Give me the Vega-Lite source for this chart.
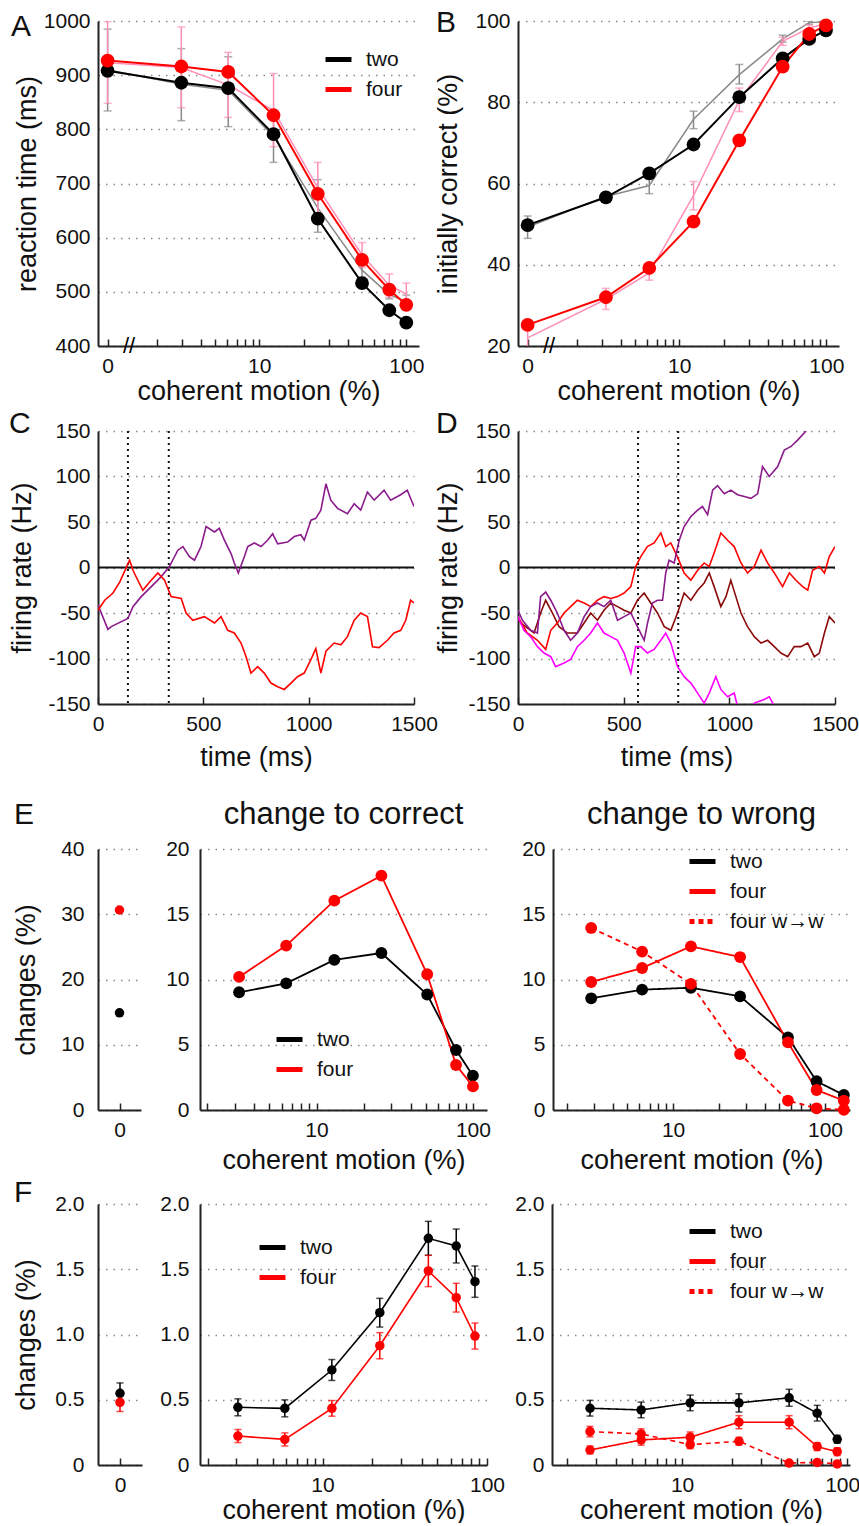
{
"$schema":"https://vega.github.io/schema/vega-lite/v6.json",
"background":"white",
"padding":{"left":8,"top":8,"right":0,"bottom":0},
"config":{
 "font":"Liberation Sans",
 "view":{"stroke":null},
 "axis":{"labelFontSize":21,"titleFontSize":27,"titleFontWeight":"normal","labelColor":"#111","titleColor":"#111","domainColor":"#222","domainWidth":2,"tickColor":"#222","tickWidth":1.5,"gridColor":"#888","gridDash":[1.5,6],"gridWidth":1.5,"labelFlush":false,"labelOverlap":false},
 "axisY":{"ticks":false,"grid":true,"labelPadding":8},
 "axisX":{"grid":false,"tickSize":-7,"labelPadding":16,"titlePadding":2},
 "legend":{"orient":"none","title":null,"symbolType":"stroke","symbolSize":676,"symbolStrokeWidth":5,"labelFontSize":21,"labelOffset":12,"rowPadding":4,"padding":0,"labelColor":"#111"},
 "title":{"fontWeight":"normal","color":"#111","baseline":"alphabetic","anchor":"start","frame":"group","fontSize":30}
},
"datasets":{
 "A":[
  {"x":0.93,"g":"two","m":908,"d":910,"lo":834,"hi":985},
  {"x":2.95,"g":"two","m":886,"d":883,"lo":816,"hi":949},
  {"x":6.15,"g":"two","m":876,"d":872,"lo":805,"hi":934},
  {"x":12.5,"g":"two","m":791,"d":787,"lo":739,"hi":835},
  {"x":25,"g":"two","m":635,"d":655,"lo":610,"hi":707},
  {"x":50,"g":"two","m":516,"d":540,"lo":527,"hi":552},
  {"x":76.6,"g":"two","m":466,"d":495,"lo":487,"hi":503},
  {"x":100,"g":"two","m":443,"d":482,"lo":470,"hi":494},
  {"x":0.93,"g":"four","m":927,"d":923,"lo":848,"hi":999},
  {"x":2.95,"g":"four","m":916,"d":914,"lo":840,"hi":989},
  {"x":6.15,"g":"four","m":906,"d":882,"lo":822,"hi":942},
  {"x":12.5,"g":"four","m":826,"d":835,"lo":768,"hi":903},
  {"x":25,"g":"four","m":681,"d":692,"lo":644,"hi":739},
  {"x":50,"g":"four","m":559,"d":568,"lo":545,"hi":591},
  {"x":76.6,"g":"four","m":504,"d":512,"lo":490,"hi":533},
  {"x":100,"g":"four","m":476,"d":496,"lo":478,"hi":516}
 ],
 "B":[
  {"x":0.93,"g":"two","m":49.75,"d":49.3,"lo":46.5,"hi":52},
  {"x":3.17,"g":"two","m":56.6,"d":56.8,"lo":55.8,"hi":57.8},
  {"x":6.25,"g":"two","m":62.5,"d":59.5,"lo":57.5,"hi":61},
  {"x":12.5,"g":"two","m":69.6,"d":75.8,"lo":73.5,"hi":77.8},
  {"x":25.6,"g":"two","m":81.25,"d":86.8,"lo":84.5,"hi":89.3},
  {"x":50.5,"g":"two","m":90.8,"d":95.6,"lo":94.8,"hi":96.5},
  {"x":76.5,"g":"two","m":95.6,"d":99.6,"lo":99.2,"hi":100},
  {"x":99.5,"g":"two","m":97.7,"d":99.8,"lo":99.5,"hi":100},
  {"x":0.93,"g":"four","m":25.2,"d":22,"lo":19.5,"hi":24.5},
  {"x":3.17,"g":"four","m":32,"d":31.5,"lo":29,"hi":34.2},
  {"x":6.25,"g":"four","m":39.2,"d":38,"lo":36.2,"hi":40},
  {"x":12.5,"g":"four","m":50.6,"d":57,"lo":53.5,"hi":60.5},
  {"x":25.6,"g":"four","m":70.6,"d":80.5,"lo":77.7,"hi":83.5},
  {"x":50.5,"g":"four","m":88.75,"d":95,"lo":94,"hi":96},
  {"x":76.5,"g":"four","m":96.8,"d":98.3,"lo":97.5,"hi":99},
  {"x":99.5,"g":"four","m":98.9,"d":99.3,"lo":98.8,"hi":99.8}
 ],
 "C":[
  {"t":0,"v":-41,"s":"p"},{"t":47,"v":-68,"s":"p"},{"t":63,"v":-65,"s":"p"},{"t":142,"v":-56,"s":"p"},{"t":166,"v":-43,"s":"p"},{"t":205,"v":-32,"s":"p"},{"t":253,"v":-21,"s":"p"},{"t":300,"v":-10,"s":"p"},{"t":339,"v":1,"s":"p"},{"t":379,"v":19,"s":"p"},{"t":403,"v":23,"s":"p"},{"t":434,"v":12,"s":"p"},{"t":458,"v":8,"s":"p"},{"t":489,"v":23,"s":"p"},{"t":513,"v":45,"s":"p"},{"t":553,"v":39,"s":"p"},{"t":576,"v":43,"s":"p"},{"t":600,"v":30,"s":"p"},{"t":632,"v":15,"s":"p"},{"t":647,"v":5,"s":"p"},{"t":666,"v":-6,"s":"p"},{"t":695,"v":12,"s":"p"},{"t":711,"v":23,"s":"p"},{"t":742,"v":27,"s":"p"},{"t":774,"v":23,"s":"p"},{"t":805,"v":30,"s":"p"},{"t":829,"v":37,"s":"p"},{"t":853,"v":26,"s":"p"},{"t":900,"v":28,"s":"p"},{"t":932,"v":34,"s":"p"},{"t":963,"v":36,"s":"p"},{"t":979,"v":30,"s":"p"},{"t":1011,"v":52,"s":"p"},{"t":1034,"v":54,"s":"p"},{"t":1058,"v":63,"s":"p"},{"t":1082,"v":92,"s":"p"},{"t":1105,"v":74,"s":"p"},{"t":1137,"v":65,"s":"p"},{"t":1184,"v":59,"s":"p"},{"t":1216,"v":70,"s":"p"},{"t":1247,"v":63,"s":"p"},{"t":1279,"v":83,"s":"p"},{"t":1311,"v":74,"s":"p"},{"t":1358,"v":85,"s":"p"},{"t":1389,"v":74,"s":"p"},{"t":1437,"v":80,"s":"p"},{"t":1468,"v":85,"s":"p"},{"t":1500,"v":67,"s":"p"},
  {"t":0,"v":-47,"s":"r"},{"t":32,"v":-36,"s":"r"},{"t":71,"v":-28,"s":"r"},{"t":103,"v":-16,"s":"r"},{"t":150,"v":8,"s":"r"},{"t":166,"v":-3,"s":"r"},{"t":189,"v":-14,"s":"r"},{"t":213,"v":-25,"s":"r"},{"t":245,"v":-16,"s":"r"},{"t":284,"v":-6,"s":"r"},{"t":316,"v":-14,"s":"r"},{"t":347,"v":-32,"s":"r"},{"t":395,"v":-34,"s":"r"},{"t":418,"v":-50,"s":"r"},{"t":450,"v":-58,"s":"r"},{"t":505,"v":-54,"s":"r"},{"t":553,"v":-61,"s":"r"},{"t":584,"v":-54,"s":"r"},{"t":616,"v":-69,"s":"r"},{"t":647,"v":-72,"s":"r"},{"t":679,"v":-83,"s":"r"},{"t":703,"v":-98,"s":"r"},{"t":726,"v":-116,"s":"r"},{"t":758,"v":-109,"s":"r"},{"t":789,"v":-116,"s":"r"},{"t":821,"v":-127,"s":"r"},{"t":853,"v":-131,"s":"r"},{"t":884,"v":-134,"s":"r"},{"t":916,"v":-127,"s":"r"},{"t":947,"v":-120,"s":"r"},{"t":979,"v":-116,"s":"r"},{"t":1011,"v":-101,"s":"r"},{"t":1034,"v":-89,"s":"r"},{"t":1058,"v":-116,"s":"r"},{"t":1082,"v":-92,"s":"r"},{"t":1121,"v":-83,"s":"r"},{"t":1153,"v":-85,"s":"r"},{"t":1184,"v":-76,"s":"r"},{"t":1216,"v":-58,"s":"r"},{"t":1247,"v":-50,"s":"r"},{"t":1279,"v":-54,"s":"r"},{"t":1303,"v":-87,"s":"r"},{"t":1334,"v":-88,"s":"r"},{"t":1374,"v":-80,"s":"r"},{"t":1405,"v":-72,"s":"r"},{"t":1437,"v":-69,"s":"r"},{"t":1461,"v":-58,"s":"r"},{"t":1484,"v":-36,"s":"r"},{"t":1500,"v":-39,"s":"r"}
 ],
 "D":[
  {"t":0,"v":-58,"s":"dr"},{"t":36,"v":-65,"s":"dr"},{"t":76,"v":-72,"s":"dr"},{"t":107,"v":-50,"s":"dr"},{"t":131,"v":-36,"s":"dr"},{"t":163,"v":-50,"s":"dr"},{"t":194,"v":-65,"s":"dr"},{"t":234,"v":-72,"s":"dr"},{"t":281,"v":-72,"s":"dr"},{"t":313,"v":-61,"s":"dr"},{"t":344,"v":-50,"s":"dr"},{"t":376,"v":-58,"s":"dr"},{"t":407,"v":-47,"s":"dr"},{"t":439,"v":-39,"s":"dr"},{"t":471,"v":-43,"s":"dr"},{"t":502,"v":-47,"s":"dr"},{"t":534,"v":-50,"s":"dr"},{"t":565,"v":-36,"s":"dr"},{"t":597,"v":-28,"s":"dr"},{"t":628,"v":-39,"s":"dr"},{"t":660,"v":-50,"s":"dr"},{"t":692,"v":-65,"s":"dr"},{"t":723,"v":-69,"s":"dr"},{"t":755,"v":-50,"s":"dr"},{"t":786,"v":-28,"s":"dr"},{"t":818,"v":-36,"s":"dr"},{"t":850,"v":-25,"s":"dr"},{"t":881,"v":-17,"s":"dr"},{"t":905,"v":-6,"s":"dr"},{"t":928,"v":-21,"s":"dr"},{"t":960,"v":-43,"s":"dr"},{"t":984,"v":-32,"s":"dr"},{"t":1007,"v":-14,"s":"dr"},{"t":1031,"v":-32,"s":"dr"},{"t":1055,"v":-50,"s":"dr"},{"t":1086,"v":-65,"s":"dr"},{"t":1118,"v":-76,"s":"dr"},{"t":1150,"v":-83,"s":"dr"},{"t":1181,"v":-80,"s":"dr"},{"t":1213,"v":-87,"s":"dr"},{"t":1244,"v":-94,"s":"dr"},{"t":1276,"v":-98,"s":"dr"},{"t":1307,"v":-87,"s":"dr"},{"t":1339,"v":-87,"s":"dr"},{"t":1371,"v":-83,"s":"dr"},{"t":1402,"v":-98,"s":"dr"},{"t":1426,"v":-94,"s":"dr"},{"t":1450,"v":-72,"s":"dr"},{"t":1473,"v":-54,"s":"dr"},{"t":1500,"v":-61,"s":"dr"},
  {"t":0,"v":-54,"s":"r"},{"t":44,"v":-72,"s":"r"},{"t":92,"v":-80,"s":"r"},{"t":131,"v":-90,"s":"r"},{"t":155,"v":-69,"s":"r"},{"t":186,"v":-61,"s":"r"},{"t":218,"v":-50,"s":"r"},{"t":249,"v":-43,"s":"r"},{"t":281,"v":-36,"s":"r"},{"t":313,"v":-39,"s":"r"},{"t":344,"v":-43,"s":"r"},{"t":376,"v":-36,"s":"r"},{"t":407,"v":-32,"s":"r"},{"t":439,"v":-34,"s":"r"},{"t":471,"v":-32,"s":"r"},{"t":502,"v":-28,"s":"r"},{"t":534,"v":-21,"s":"r"},{"t":557,"v":1,"s":"r"},{"t":581,"v":12,"s":"r"},{"t":612,"v":23,"s":"r"},{"t":644,"v":27,"s":"r"},{"t":676,"v":38,"s":"r"},{"t":699,"v":23,"s":"r"},{"t":723,"v":27,"s":"r"},{"t":754,"v":12,"s":"r"},{"t":786,"v":-6,"s":"r"},{"t":818,"v":-14,"s":"r"},{"t":850,"v":-3,"s":"r"},{"t":881,"v":5,"s":"r"},{"t":905,"v":1,"s":"r"},{"t":928,"v":16,"s":"r"},{"t":960,"v":38,"s":"r"},{"t":992,"v":30,"s":"r"},{"t":1023,"v":23,"s":"r"},{"t":1055,"v":5,"s":"r"},{"t":1086,"v":-6,"s":"r"},{"t":1118,"v":1,"s":"r"},{"t":1150,"v":19,"s":"r"},{"t":1181,"v":5,"s":"r"},{"t":1213,"v":-6,"s":"r"},{"t":1252,"v":-21,"s":"r"},{"t":1284,"v":-6,"s":"r"},{"t":1315,"v":-14,"s":"r"},{"t":1347,"v":-21,"s":"r"},{"t":1371,"v":-25,"s":"r"},{"t":1394,"v":-3,"s":"r"},{"t":1426,"v":1,"s":"r"},{"t":1450,"v":-6,"s":"r"},{"t":1473,"v":12,"s":"r"},{"t":1500,"v":23,"s":"r"},
  {"t":0,"v":-54,"s":"m"},{"t":28,"v":-69,"s":"m"},{"t":60,"v":-76,"s":"m"},{"t":92,"v":-87,"s":"m"},{"t":123,"v":-94,"s":"m"},{"t":155,"v":-98,"s":"m"},{"t":178,"v":-109,"s":"m"},{"t":218,"v":-105,"s":"m"},{"t":249,"v":-101,"s":"m"},{"t":281,"v":-87,"s":"m"},{"t":313,"v":-80,"s":"m"},{"t":344,"v":-72,"s":"m"},{"t":376,"v":-61,"s":"m"},{"t":407,"v":-72,"s":"m"},{"t":439,"v":-76,"s":"m"},{"t":471,"v":-80,"s":"m"},{"t":502,"v":-94,"s":"m"},{"t":534,"v":-116,"s":"m"},{"t":557,"v":-87,"s":"m"},{"t":581,"v":-87,"s":"m"},{"t":612,"v":-94,"s":"m"},{"t":644,"v":-90,"s":"m"},{"t":676,"v":-80,"s":"m"},{"t":699,"v":-72,"s":"m"},{"t":723,"v":-83,"s":"m"},{"t":755,"v":-109,"s":"m"},{"t":786,"v":-120,"s":"m"},{"t":818,"v":-127,"s":"m"},{"t":850,"v":-138,"s":"m"},{"t":881,"v":-149,"s":"m"},{"t":905,"v":-138,"s":"m"},{"t":936,"v":-120,"s":"m"},{"t":960,"v":-134,"s":"m"},{"t":992,"v":-142,"s":"m"},{"t":1023,"v":-138,"s":"m"},{"t":1039,"v":-153,"s":"m"},{"t":1070,"v":-162,"s":"m"},{"t":1100,"v":-158,"s":"m"},{"t":1118,"v":-149,"s":"m"},{"t":1142,"v":-147,"s":"m"},{"t":1165,"v":-145,"s":"m"},{"t":1189,"v":-142,"s":"m"},{"t":1205,"v":-149,"s":"m"},{"t":1220,"v":-160,"s":"m"},
  {"t":0,"v":-47,"s":"p"},{"t":21,"v":-58,"s":"p"},{"t":60,"v":-69,"s":"p"},{"t":92,"v":-72,"s":"p"},{"t":107,"v":-32,"s":"p"},{"t":131,"v":-27,"s":"p"},{"t":155,"v":-36,"s":"p"},{"t":186,"v":-50,"s":"p"},{"t":218,"v":-69,"s":"p"},{"t":249,"v":-80,"s":"p"},{"t":281,"v":-72,"s":"p"},{"t":313,"v":-54,"s":"p"},{"t":344,"v":-43,"s":"p"},{"t":376,"v":-39,"s":"p"},{"t":407,"v":-43,"s":"p"},{"t":439,"v":-36,"s":"p"},{"t":471,"v":-58,"s":"p"},{"t":502,"v":-54,"s":"p"},{"t":534,"v":-50,"s":"p"},{"t":565,"v":-65,"s":"p"},{"t":597,"v":-80,"s":"p"},{"t":613,"v":-61,"s":"p"},{"t":636,"v":-39,"s":"p"},{"t":660,"v":-36,"s":"p"},{"t":684,"v":-36,"s":"p"},{"t":699,"v":-6,"s":"p"},{"t":715,"v":8,"s":"p"},{"t":739,"v":5,"s":"p"},{"t":763,"v":30,"s":"p"},{"t":786,"v":45,"s":"p"},{"t":818,"v":56,"s":"p"},{"t":850,"v":63,"s":"p"},{"t":873,"v":67,"s":"p"},{"t":897,"v":58,"s":"p"},{"t":921,"v":85,"s":"p"},{"t":944,"v":90,"s":"p"},{"t":976,"v":81,"s":"p"},{"t":1007,"v":85,"s":"p"},{"t":1039,"v":80,"s":"p"},{"t":1071,"v":78,"s":"p"},{"t":1102,"v":76,"s":"p"},{"t":1134,"v":81,"s":"p"},{"t":1157,"v":111,"s":"p"},{"t":1189,"v":100,"s":"p"},{"t":1229,"v":111,"s":"p"},{"t":1260,"v":129,"s":"p"},{"t":1292,"v":133,"s":"p"},{"t":1323,"v":140,"s":"p"},{"t":1363,"v":150,"s":"p"}
 ],
 "Ec":[
  {"x":3.2,"g":"two","v":9.02},{"x":6.4,"g":"two","v":9.7},{"x":13,"g":"two","v":11.5},{"x":26,"g":"two","v":12.03},{"x":51,"g":"two","v":8.85},{"x":78,"g":"two","v":4.6},{"x":100,"g":"two","v":2.63},
  {"x":3.2,"g":"four","v":10.2},{"x":6.4,"g":"four","v":12.6},{"x":13,"g":"four","v":16.04},{"x":26,"g":"four","v":17.96},{"x":51,"g":"four","v":10.4},{"x":78,"g":"four","v":3.45},{"x":100,"g":"four","v":1.81}
 ],
 "Ew":[
  {"x":2.89,"s":"two","v":8.56},{"x":6.25,"s":"two","v":9.22},{"x":13.1,"s":"two","v":9.37},{"x":27.6,"s":"two","v":8.71},{"x":57,"s":"two","v":5.57},{"x":88,"s":"two","v":2.2},{"x":133,"s":"two","v":1.15},
  {"x":2.89,"s":"four","v":9.81},{"x":6.25,"s":"four","v":10.88},{"x":13.1,"s":"four","v":12.54},{"x":27.6,"s":"four","v":11.72},{"x":57,"s":"four","v":5.18},{"x":88,"s":"four","v":1.53},{"x":133,"s":"four","v":0.72},
  {"x":2.89,"s":"four w→w","v":13.95},{"x":6.25,"s":"four w→w","v":12.14},{"x":13.1,"s":"four w→w","v":9.66},{"x":27.6,"s":"four w→w","v":4.29},{"x":57,"s":"four w→w","v":0.72},{"x":88,"s":"four w→w","v":0.13},{"x":133,"s":"four w→w","v":0.02}
 ],
 "Fc":[
  {"x":3.06,"g":"two","v":0.442,"lo":0.377,"hi":0.507},{"x":5.9,"g":"two","v":0.434,"lo":0.369,"hi":0.499},{"x":11.4,"g":"two","v":0.728,"lo":0.648,"hi":0.808},{"x":22.3,"g":"two","v":1.167,"lo":1.057,"hi":1.277},{"x":44,"g":"two","v":1.737,"lo":1.607,"hi":1.867},{"x":65,"g":"two","v":1.678,"lo":1.548,"hi":1.808},{"x":84.5,"g":"two","v":1.405,"lo":1.285,"hi":1.525},
  {"x":3.06,"g":"four","v":0.222,"lo":0.172,"hi":0.272},{"x":5.9,"g":"four","v":0.196,"lo":0.146,"hi":0.246},{"x":11.4,"g":"four","v":0.434,"lo":0.374,"hi":0.494},{"x":22.3,"g":"four","v":0.914,"lo":0.814,"hi":1.014},{"x":44,"g":"four","v":1.487,"lo":1.367,"hi":1.607},{"x":65,"g":"four","v":1.282,"lo":1.172,"hi":1.392},{"x":84.5,"g":"four","v":0.988,"lo":0.888,"hi":1.088}
 ],
 "Fw":[
  {"x":2.77,"s":"two","v":0.435,"lo":0.375,"hi":0.495},{"x":5.65,"s":"two","v":0.422,"lo":0.362,"hi":0.482},{"x":11.2,"s":"two","v":0.476,"lo":0.416,"hi":0.536},{"x":22.1,"s":"two","v":0.476,"lo":0.406,"hi":0.546},{"x":44.5,"s":"two","v":0.515,"lo":0.45,"hi":0.58},{"x":65.8,"s":"two","v":0.397,"lo":0.337,"hi":0.457},{"x":87,"s":"two","v":0.197,"lo":0.167,"hi":0.227},
  {"x":2.77,"s":"four","v":0.115,"lo":0.085,"hi":0.145},{"x":5.65,"s":"four","v":0.192,"lo":0.152,"hi":0.232},{"x":11.2,"s":"four","v":0.213,"lo":0.173,"hi":0.253},{"x":22.1,"s":"four","v":0.328,"lo":0.278,"hi":0.378},{"x":44.5,"s":"four","v":0.328,"lo":0.278,"hi":0.378},{"x":65.8,"s":"four","v":0.141,"lo":0.111,"hi":0.171},{"x":87,"s":"four","v":0.102,"lo":0.072,"hi":0.132},
  {"x":2.77,"s":"four w→w","v":0.256,"lo":0.216,"hi":0.296},{"x":5.65,"s":"four w→w","v":0.238,"lo":0.198,"hi":0.278},{"x":11.2,"s":"four w→w","v":0.156,"lo":0.126,"hi":0.186},{"x":22.1,"s":"four w→w","v":0.182,"lo":0.152,"hi":0.212},{"x":44.5,"s":"four w→w","v":0.015,"lo":0.005,"hi":0.025},{"x":65.8,"s":"four w→w","v":0.02,"lo":0.01,"hi":0.03},{"x":87,"s":"four w→w","v":0.008,"lo":0.0,"hi":0.018}
 ]
},
"spacing":29,
"resolve":{"scale":{"x":"independent","y":"independent","color":"independent","strokeDash":"independent"},"axis":{"x":"independent","y":"independent"},"legend":{"color":"independent","strokeDash":"independent"}},
"vconcat":[
 {"spacing":5,
  "resolve":{"scale":{"x":"independent","y":"independent","color":"independent","strokeDash":"independent"},"axis":{"x":"independent","y":"independent"},"legend":{"color":"independent","strokeDash":"independent"}},
  "vconcat":[
   {"spacing":99,"bounds":"flush",
    "resolve":{"scale":{"x":"independent","y":"independent","color":"independent","strokeDash":"independent"},"axis":{"x":"independent","y":"independent"},"legend":{"color":"independent","strokeDash":"independent"}},
    "hconcat":[
     {"width":321,"height":325,
      "title":{"text":"A","dx":-87,"offset":-32},
      "data":{"name":"A"},
      "encoding":{"x":{"field":"x","type":"quantitative","scale":{"type":"log","domain":[0.8,122],"nice":false},"axis":{"values":[0.93,2,3,4,5,6,7,8,9,10,20,30,40,50,60,70,80,90,100],"labelExpr":"datum.value < 1 ? '0' : (datum.value == 10 ? '10' : (datum.value == 100 ? '100' : ''))","title":"coherent motion (%)"}}},
      "layer":[
       {"mark":{"type":"line","strokeWidth":1.5},"encoding":{"y":{"field":"d","type":"quantitative","scale":{"domain":[400,1000],"nice":false,"zero":false},"title":"reaction time (ms)","axis":{"values":[400,500,600,700,800,900,1000],"format":"d","titlePadding":2}},"detail":{"field":"g"},"color":{"condition":{"test":"datum.g==='two'","value":"#8a8a8a"},"value":"#ff8fb8"}}},
       {"mark":{"type":"errorbar","ticks":{"size":8},"thickness":1.5,"clip":true},"encoding":{"y":{"field":"lo","type":"quantitative","title":"reaction time (ms)"},"y2":{"field":"hi"},"color":{"condition":{"test":"datum.g==='two'","value":"#8a8a8a"},"value":"#ff8fb8"}}},
       {"mark":{"type":"line","strokeWidth":2},"encoding":{"y":{"field":"m","type":"quantitative","title":"reaction time (ms)"},"color":{"field":"g","type":"nominal","scale":{"domain":["two","four"],"range":["#000000","#ff0000"]},"legend":{"legendX":225,"legendY":23}}}},
       {"mark":{"type":"point","filled":true,"size":190,"opacity":1},"encoding":{"y":{"field":"m","type":"quantitative","title":"reaction time (ms)"},"color":{"condition":{"test":"datum.g==='two'","value":"#000000"},"value":"#ff0000"}}},
       {"data":{"values":[{"x":1.3,"y":400}]},"mark":{"type":"text","text":"//","fontSize":22,"baseline":"middle","align":"center"},"encoding":{"y":{"field":"y","type":"quantitative","title":"reaction time (ms)"}}}
      ]},
     {"width":321,"height":325,
      "title":{"text":"B","dx":-82,"offset":-28},
      "data":{"name":"B"},
      "encoding":{"x":{"field":"x","type":"quantitative","scale":{"type":"log","domain":[0.8,122],"nice":false},"axis":{"values":[0.93,2,3,4,5,6,7,8,9,10,20,30,40,50,60,70,80,90,100],"labelExpr":"datum.value < 1 ? '0' : (datum.value == 10 ? '10' : (datum.value == 100 ? '100' : ''))","title":"coherent motion (%)"}}},
      "layer":[
       {"mark":{"type":"line","strokeWidth":1.5},"encoding":{"y":{"field":"d","type":"quantitative","scale":{"domain":[20,100],"nice":false,"zero":false},"title":"initially correct (%)","axis":{"values":[20,40,60,80,100],"titlePadding":12}},"detail":{"field":"g"},"color":{"condition":{"test":"datum.g==='two'","value":"#8a8a8a"},"value":"#ff8fb8"}}},
       {"mark":{"type":"errorbar","ticks":{"size":8},"thickness":1.5,"clip":true},"encoding":{"y":{"field":"lo","type":"quantitative","title":"initially correct (%)"},"y2":{"field":"hi"},"color":{"condition":{"test":"datum.g==='two'","value":"#8a8a8a"},"value":"#ff8fb8"}}},
       {"mark":{"type":"line","strokeWidth":2},"encoding":{"y":{"field":"m","type":"quantitative","title":"initially correct (%)"},"color":{"field":"g","type":"nominal","scale":{"domain":["two","four"],"range":["#000000","#ff0000"]},"legend":null}}},
       {"mark":{"type":"point","filled":true,"size":190,"opacity":1},"encoding":{"y":{"field":"m","type":"quantitative","title":"initially correct (%)"},"color":{"condition":{"test":"datum.g==='two'","value":"#000000"},"value":"#ff0000"}}},
       {"data":{"values":[{"x":1.3,"y":20}]},"mark":{"type":"text","text":"//","fontSize":22,"baseline":"middle","align":"center"},"encoding":{"y":{"field":"y","type":"quantitative","title":"initially correct (%)"}}}
      ]}
    ]},
   {"spacing":104,"bounds":"flush",
    "resolve":{"scale":{"x":"independent","y":"independent","color":"independent","strokeDash":"independent"},"axis":{"x":"independent","y":"independent"},"legend":{"color":"independent","strokeDash":"independent"}},
    "hconcat":[
     {"width":316,"height":273,
      "title":{"text":"C","dx":-89,"offset":-19},
      "layer":[
       {"data":{"values":[{"v":0}]},"mark":{"type":"rule","color":"#111","strokeWidth":2},"encoding":{"y":{"field":"v","type":"quantitative","scale":{"domain":[-150,150],"nice":false},"title":"firing rate (Hz)","axis":{"values":[-150,-100,-50,0,50,100,150],"labelExpr":"datum.value < 0 ? '-' + (-datum.value) : '' + datum.value","titlePadding":11}}}},
       {"data":{"values":[{"t":142},{"t":336}]},"mark":{"type":"rule","color":"#111","strokeWidth":2,"strokeDash":[2,4]},"encoding":{"x":{"field":"t","type":"quantitative","scale":{"domain":[0,1500],"nice":false},"title":"time (ms)","axis":{"values":[0,500,1000,1500],"format":"d","titlePadding":10}}}},
       {"data":{"name":"C"},"mark":{"type":"line","strokeWidth":1.6,"clip":true},"encoding":{"x":{"field":"t","type":"quantitative","title":"time (ms)"},"y":{"field":"v","type":"quantitative","title":"firing rate (Hz)"},"color":{"field":"s","type":"nominal","scale":{"domain":["p","r"],"range":["#8b1a8b","#ff0000"]},"legend":null}}}
      ]},
     {"width":317,"height":273,
      "title":{"text":"D","dx":-82,"offset":-19},
      "layer":[
       {"data":{"values":[{"v":0}]},"mark":{"type":"rule","color":"#111","strokeWidth":2},"encoding":{"y":{"field":"v","type":"quantitative","scale":{"domain":[-150,150],"nice":false},"title":"firing rate (Hz)","axis":{"values":[-150,-100,-50,0,50,100,150],"labelExpr":"datum.value < 0 ? '-' + (-datum.value) : '' + datum.value","titlePadding":5}}}},
       {"data":{"values":[{"t":568},{"t":758}]},"mark":{"type":"rule","color":"#111","strokeWidth":2,"strokeDash":[2,4]},"encoding":{"x":{"field":"t","type":"quantitative","scale":{"domain":[0,1500],"nice":false},"title":"time (ms)","axis":{"values":[0,500,1000,1500],"format":"d","titlePadding":10}}}},
       {"data":{"name":"D"},"mark":{"type":"line","strokeWidth":1.6,"clip":true},"encoding":{"x":{"field":"t","type":"quantitative","title":"time (ms)"},"y":{"field":"v","type":"quantitative","title":"firing rate (Hz)"},"color":{"field":"s","type":"nominal","scale":{"domain":["dr","r","m","p"],"range":["#8b0a0a","#ff0000","#ff00ff","#8b1a8b"]},"legend":null}}}
      ]}
    ]}
  ]},
 {"spacing":5,
  "resolve":{"scale":{"x":"independent","y":"independent","color":"independent","strokeDash":"independent"},"axis":{"x":"independent","y":"independent"},"legend":{"color":"independent","strokeDash":"independent"}},
  "vconcat":[
   {"spacing":59,"bounds":"flush",
    "resolve":{"scale":{"x":"independent","y":"independent","color":"independent","strokeDash":"independent"},"axis":{"x":"independent","y":"independent"},"legend":{"color":"independent","strokeDash":"independent"}},
    "hconcat":[
     {"width":43,"height":261,
      "title":{"text":"E","dx":-84,"offset":8},
      "data":{"values":[{"x":0,"g":"two","v":14.9},{"x":0,"g":"four","v":30.65}]},
      "mark":{"type":"point","filled":true,"size":90,"opacity":1},
      "encoding":{
       "x":{"field":"x","type":"quantitative","scale":{"domain":[-1,1],"nice":false},"axis":{"values":[0],"title":null}},
       "y":{"field":"v","type":"quantitative","scale":{"domain":[0,40],"nice":false},"title":"changes (%)","axis":{"values":[0,10,20,30,40],"titlePadding":20,"labelPadding":14}},
       "color":{"condition":{"test":"datum.g==='two'","value":"#000000"},"value":"#ff0000"}}},
     {"spacing":66,"bounds":"flush",
      "resolve":{"scale":{"x":"independent","y":"independent","color":"independent","strokeDash":"independent"},"axis":{"x":"independent","y":"independent"},"legend":{"color":"independent","strokeDash":"independent"}},
      "hconcat":[
       {"width":287,"height":261,
        "title":{"text":"change to correct","anchor":"middle","fontSize":31,"offset":7},
        "data":{"name":"Ec"},
        "encoding":{
         "x":{"field":"x","type":"quantitative","scale":{"type":"log","domain":[1.8,123],"nice":false},"axis":{"values":[2,3,4,5,6,7,8,9,10,20,30,40,50,60,70,80,90,100],"labelExpr":"datum.value == 10 ? '10' : (datum.value == 100 ? '100' : '')","title":"coherent motion (%)","titlePadding":7}},
         "y":{"field":"v","type":"quantitative","scale":{"domain":[0,20],"nice":false},"title":null,"axis":{"values":[0,5,10,15,20],"labelPadding":11}}},
        "layer":[
         {"mark":{"type":"line","strokeWidth":1.8},"encoding":{"color":{"field":"g","type":"nominal","scale":{"domain":["two","four"],"range":["#000000","#ff0000"]},"legend":{"legendX":74,"legendY":175}}}},
         {"mark":{"type":"point","filled":true,"size":140,"opacity":1},"encoding":{"color":{"condition":{"test":"datum.g==='two'","value":"#000000"},"value":"#ff0000"}}}
        ]},
       {"width":297,"height":261,
        "title":{"text":"change to wrong","anchor":"middle","fontSize":31,"offset":7},
        "data":{"name":"Ew"},
        "encoding":{
         "x":{"field":"x","type":"quantitative","scale":{"type":"log","domain":[1.62,146],"nice":false},"axis":{"values":[2,3,4,5,6,7,8,9,10,20,30,40,50,60,70,80,90,100],"labelExpr":"datum.value == 10 ? '10' : (datum.value == 100 ? '100' : '')","title":"coherent motion (%)","titlePadding":7}},
         "y":{"field":"v","type":"quantitative","scale":{"domain":[0,20],"nice":false},"title":null,"axis":{"values":[0,5,10,15,20],"labelPadding":8}}},
        "layer":[
         {"mark":{"type":"line","strokeWidth":1.8},"encoding":{
           "color":{"field":"s","type":"nominal","scale":{"domain":["two","four","four w→w"],"range":["#000000","#ff0000","#ff0000"]},"legend":{"legendX":134,"legendY":-3}},
           "strokeDash":{"field":"s","type":"nominal","scale":{"domain":["two","four","four w→w"],"range":[[1,0],[1,0],[5,4]]},"legend":{"legendX":134,"legendY":-3}}}},
         {"mark":{"type":"point","filled":true,"size":140,"opacity":1},"encoding":{"color":{"condition":{"test":"datum.s==='two'","value":"#000000"},"value":"#ff0000"}}}
        ]}
      ]}
    ]},
   {"spacing":58,"bounds":"flush",
    "resolve":{"scale":{"x":"independent","y":"independent","color":"independent","strokeDash":"independent"},"axis":{"x":"independent","y":"independent"},"legend":{"color":"independent","strokeDash":"independent"}},
    "hconcat":[
     {"width":44,"height":261,
      "title":{"text":"F","dx":-84,"offset":-15},
      "data":{"values":[{"x":0,"g":"two","v":0.549,"lo":0.469,"hi":0.629},{"x":0,"g":"four","v":0.48,"lo":0.41,"hi":0.55}]},
      "encoding":{
       "x":{"field":"x","type":"quantitative","scale":{"domain":[-1,1],"nice":false},"axis":{"values":[0],"title":null}},
       "color":{"condition":{"test":"datum.g==='two'","value":"#000000"},"value":"#ff0000"}},
      "layer":[
       {"mark":{"type":"errorbar","ticks":{"size":7},"thickness":1.5},"encoding":{"y":{"field":"lo","type":"quantitative","scale":{"domain":[0,2],"nice":false},"title":"changes (%)","axis":{"values":[0,0.5,1,1.5,2],"labelExpr":"datum.value == 0 ? '0' : format(datum.value, '.1f')","titlePadding":14,"labelPadding":14}},"y2":{"field":"hi"}}},
       {"mark":{"type":"point","filled":true,"size":90,"opacity":1},"encoding":{"y":{"field":"v","type":"quantitative","title":"changes (%)"}}}
      ]},
     {"spacing":65,"bounds":"flush",
      "resolve":{"scale":{"x":"independent","y":"independent","color":"independent","strokeDash":"independent"},"axis":{"x":"independent","y":"independent"},"legend":{"color":"independent","strokeDash":"independent"}},
      "hconcat":[
       {"width":287,"height":261,
        "data":{"name":"Fc"},
        "encoding":{
         "x":{"field":"x","type":"quantitative","scale":{"type":"log","domain":[1.8,100],"nice":false},"axis":{"values":[2,3,4,5,6,7,8,9,10,20,30,40,50,60,70,80,90,100],"labelExpr":"datum.value == 10 ? '10' : (datum.value == 100 ? '100' : '')","title":"coherent motion (%)"}}},
        "layer":[
         {"mark":{"type":"errorbar","ticks":{"size":7},"thickness":1.5},"encoding":{"y":{"field":"lo","type":"quantitative","scale":{"domain":[0,2],"nice":false},"title":null,"axis":{"values":[0,0.5,1,1.5,2],"labelExpr":"datum.value == 0 ? '0' : format(datum.value, '.1f')","labelPadding":11}},"y2":{"field":"hi"},"color":{"condition":{"test":"datum.g==='two'","value":"#000000"},"value":"#ff0000"}}},
         {"mark":{"type":"line","strokeWidth":1.6},"encoding":{"y":{"field":"v","type":"quantitative","title":null},"color":{"field":"g","type":"nominal","scale":{"domain":["two","four"],"range":["#000000","#ff0000"]},"legend":{"legendX":57,"legendY":28}}}},
         {"mark":{"type":"point","filled":true,"size":90,"opacity":1},"encoding":{"y":{"field":"v","type":"quantitative","title":null},"color":{"condition":{"test":"datum.g==='two'","value":"#000000"},"value":"#ff0000"}}}
        ]},
       {"width":298,"height":261,
        "data":{"name":"Fw"},
        "encoding":{
         "x":{"field":"x","type":"quantitative","scale":{"type":"log","domain":[1.63,104],"nice":false},"axis":{"values":[2,3,4,5,6,7,8,9,10,20,30,40,50,60,70,80,90,100],"labelExpr":"datum.value == 10 ? '10' : (datum.value == 100 ? '100' : '')","labelOffset":{"condition":{"test":"datum.value == 100","value":-5},"value":0},"title":"coherent motion (%)"}}},
        "layer":[
         {"mark":{"type":"errorbar","ticks":{"size":7},"thickness":1.5},"encoding":{"y":{"field":"lo","type":"quantitative","scale":{"domain":[0,2],"nice":false},"title":null,"axis":{"values":[0,0.5,1,1.5,2],"labelExpr":"datum.value == 0 ? '0' : format(datum.value, '.1f')","labelPadding":8}},"y2":{"field":"hi"},"color":{"condition":{"test":"datum.s==='two'","value":"#000000"},"value":"#ff0000"}}},
         {"mark":{"type":"line","strokeWidth":1.6},"encoding":{"y":{"field":"v","type":"quantitative","title":null},
           "color":{"field":"s","type":"nominal","scale":{"domain":["two","four","four w→w"],"range":["#000000","#ff0000","#ff0000"]},"legend":{"legendX":135,"legendY":12}},
           "strokeDash":{"field":"s","type":"nominal","scale":{"domain":["two","four","four w→w"],"range":[[1,0],[1,0],[5,4]]},"legend":{"legendX":135,"legendY":12}}}},
         {"mark":{"type":"point","filled":true,"size":90,"opacity":1},"encoding":{"y":{"field":"v","type":"quantitative","title":null},"color":{"condition":{"test":"datum.s==='two'","value":"#000000"},"value":"#ff0000"}}}
        ]}
      ]}
    ]}
  ]}
]
}
